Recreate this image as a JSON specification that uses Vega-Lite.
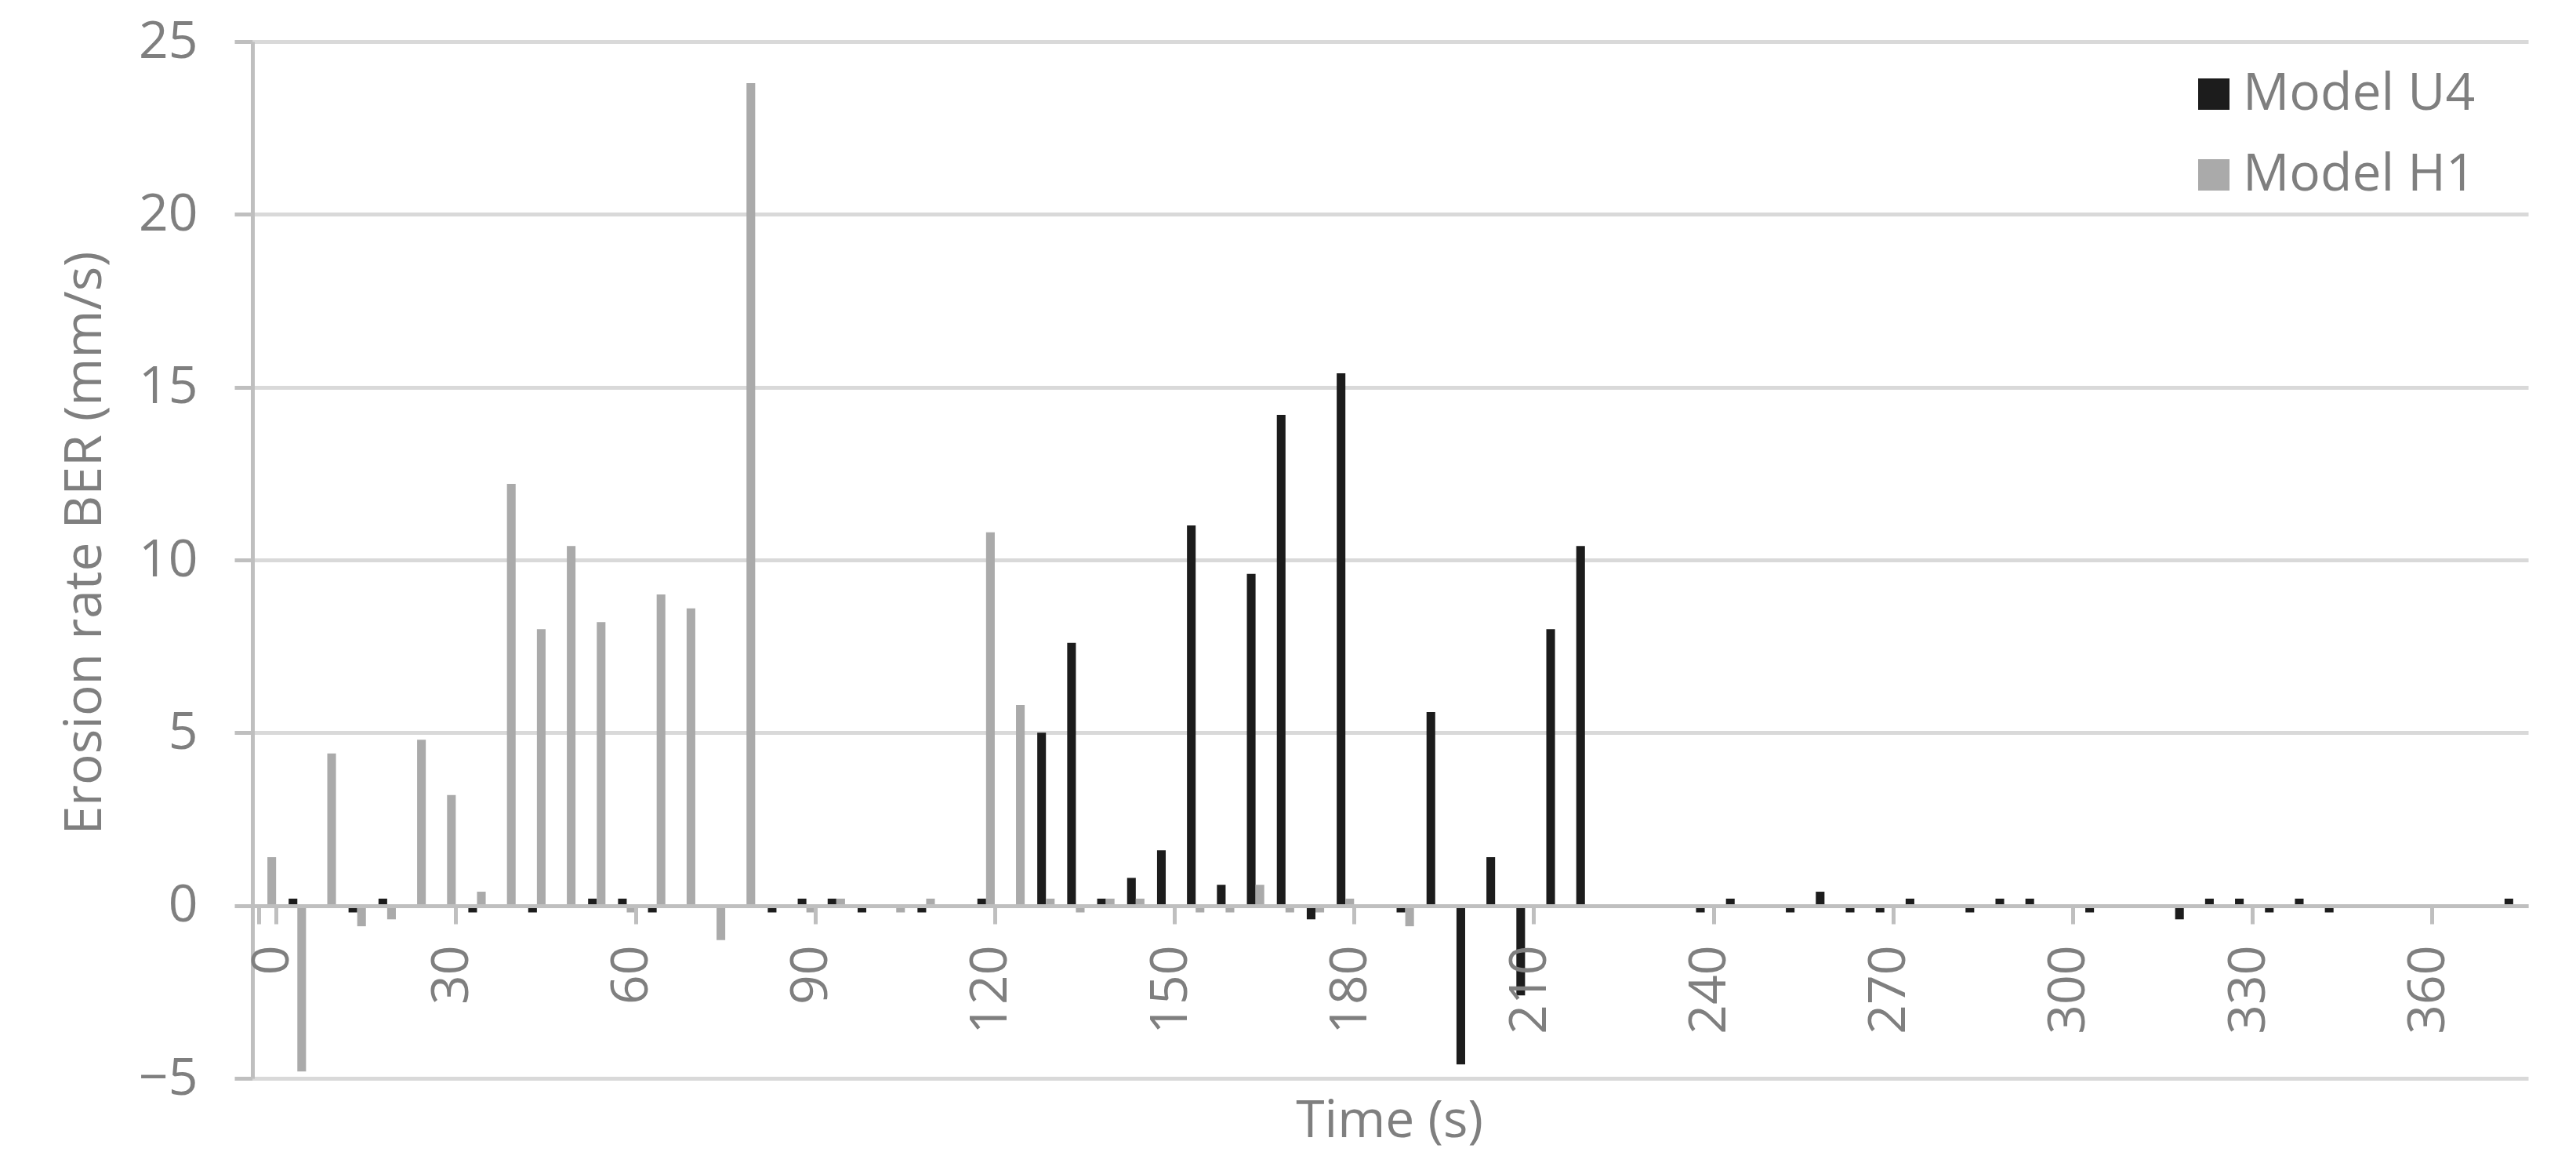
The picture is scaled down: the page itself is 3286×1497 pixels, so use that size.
{
  "$schema": "https://vega.github.io/schema/vega-lite/v6.json",
  "autosize": {"type": "none"},
  "padding": {"left": 322, "top": 53, "right": 61, "bottom": 122},
  "width": 2903,
  "height": 1322,
  "background": "white",
  "config": {
    "font": "Open Sans",
    "view": {"stroke": null}
  },
  "data": {
    "values": [
      {"t": 0, "Model U4": 0, "Model H1": 1.4},
      {"t": 5, "Model U4": 0.2, "Model H1": -4.8},
      {"t": 10, "Model U4": 0, "Model H1": 4.4},
      {"t": 15, "Model U4": -0.2, "Model H1": -0.6},
      {"t": 20, "Model U4": 0.2, "Model H1": -0.4},
      {"t": 25, "Model U4": 0, "Model H1": 4.8},
      {"t": 30, "Model U4": 0, "Model H1": 3.2},
      {"t": 35, "Model U4": -0.2, "Model H1": 0.4},
      {"t": 40, "Model U4": 0, "Model H1": 12.2},
      {"t": 45, "Model U4": -0.2, "Model H1": 8.0},
      {"t": 50, "Model U4": 0, "Model H1": 10.4},
      {"t": 55, "Model U4": 0.2, "Model H1": 8.2},
      {"t": 60, "Model U4": 0.2, "Model H1": -0.2},
      {"t": 65, "Model U4": -0.2, "Model H1": 9.0},
      {"t": 70, "Model U4": 0, "Model H1": 8.6},
      {"t": 75, "Model U4": 0, "Model H1": -1.0},
      {"t": 80, "Model U4": 0, "Model H1": 23.8},
      {"t": 85, "Model U4": -0.2, "Model H1": 0},
      {"t": 90, "Model U4": 0.2, "Model H1": -0.2},
      {"t": 95, "Model U4": 0.2, "Model H1": 0.2},
      {"t": 100, "Model U4": -0.2, "Model H1": 0},
      {"t": 105, "Model U4": 0, "Model H1": -0.2},
      {"t": 110, "Model U4": -0.2, "Model H1": 0.2},
      {"t": 115, "Model U4": 0, "Model H1": 0},
      {"t": 120, "Model U4": 0.2, "Model H1": 10.8},
      {"t": 125, "Model U4": 0, "Model H1": 5.8},
      {"t": 130, "Model U4": 5.0, "Model H1": 0.2},
      {"t": 135, "Model U4": 7.6, "Model H1": -0.2},
      {"t": 140, "Model U4": 0.2, "Model H1": 0.2},
      {"t": 145, "Model U4": 0.8, "Model H1": 0.2},
      {"t": 150, "Model U4": 1.6, "Model H1": 0},
      {"t": 155, "Model U4": 11.0, "Model H1": -0.2},
      {"t": 160, "Model U4": 0.6, "Model H1": -0.2},
      {"t": 165, "Model U4": 9.6, "Model H1": 0.6},
      {"t": 170, "Model U4": 14.2, "Model H1": -0.2},
      {"t": 175, "Model U4": -0.4, "Model H1": -0.2},
      {"t": 180, "Model U4": 15.4, "Model H1": 0.2},
      {"t": 185, "Model U4": 0, "Model H1": 0},
      {"t": 190, "Model U4": -0.2, "Model H1": -0.6},
      {"t": 195, "Model U4": 5.6, "Model H1": 0},
      {"t": 200, "Model U4": -4.6, "Model H1": 0},
      {"t": 205, "Model U4": 1.4, "Model H1": 0},
      {"t": 210, "Model U4": -2.6, "Model H1": 0},
      {"t": 215, "Model U4": 8.0, "Model H1": 0},
      {"t": 220, "Model U4": 10.4, "Model H1": 0},
      {"t": 225, "Model U4": 0, "Model H1": 0},
      {"t": 230, "Model U4": 0, "Model H1": 0},
      {"t": 235, "Model U4": 0, "Model H1": 0},
      {"t": 240, "Model U4": -0.2, "Model H1": 0},
      {"t": 245, "Model U4": 0.2, "Model H1": 0},
      {"t": 250, "Model U4": 0, "Model H1": 0},
      {"t": 255, "Model U4": -0.2, "Model H1": 0},
      {"t": 260, "Model U4": 0.4, "Model H1": 0},
      {"t": 265, "Model U4": -0.2, "Model H1": 0},
      {"t": 270, "Model U4": -0.2, "Model H1": 0},
      {"t": 275, "Model U4": 0.2, "Model H1": 0},
      {"t": 280, "Model U4": 0, "Model H1": 0},
      {"t": 285, "Model U4": -0.2, "Model H1": 0},
      {"t": 290, "Model U4": 0.2, "Model H1": 0},
      {"t": 295, "Model U4": 0.2, "Model H1": 0},
      {"t": 300, "Model U4": 0, "Model H1": 0},
      {"t": 305, "Model U4": -0.2, "Model H1": 0},
      {"t": 310, "Model U4": 0, "Model H1": 0},
      {"t": 315, "Model U4": 0, "Model H1": 0},
      {"t": 320, "Model U4": -0.4, "Model H1": 0},
      {"t": 325, "Model U4": 0.2, "Model H1": 0},
      {"t": 330, "Model U4": 0.2, "Model H1": 0},
      {"t": 335, "Model U4": -0.2, "Model H1": 0},
      {"t": 340, "Model U4": 0.2, "Model H1": 0},
      {"t": 345, "Model U4": -0.2, "Model H1": 0},
      {"t": 350, "Model U4": 0, "Model H1": 0},
      {"t": 355, "Model U4": 0, "Model H1": 0},
      {"t": 360, "Model U4": 0, "Model H1": 0},
      {"t": 365, "Model U4": 0, "Model H1": 0},
      {"t": 370, "Model U4": 0, "Model H1": 0},
      {"t": 375, "Model U4": 0.2, "Model H1": 0}
    ]
  },
  "transform": [
    {"fold": ["Model U4", "Model H1"], "as": ["model", "value"]}
  ],
  "mark": {"type": "bar"},
  "encoding": {
    "x": {
      "field": "t",
      "type": "ordinal",
      "sort": "ascending",
      "scale": {"paddingInner": 0.42, "paddingOuter": 0.21},
      "axis": {
        "values": [0, 30, 60, 90, 120, 150, 180, 210, 240, 270, 300, 330, 360],
        "title": "Time (s)",
        "titleFontSize": 66,
        "titleFontWeight": "normal",
        "titleColor": "#7f7f7f",
        "titleX": 1450,
        "titleY": 294,
        "titleAlign": "center",
        "titleBaseline": "alphabetic",
        "labelAngle": -90,
        "labelFontSize": 66,
        "labelColor": "#7f7f7f",
        "labelPadding": 27,
        "labelOffset": 6,
        "labelOverlap": false,
        "labelBound": false,
        "tickBand": "extent",
        "tickExtra": false,
        "tickSize": 23,
        "tickWidth": 5,
        "tickColor": "#bfbfbf",
        "domainColor": "#bfbfbf",
        "domainWidth": 5,
        "grid": false,
        "offset": -220,
        "zindex": 1
      }
    },
    "xOffset": {
      "field": "model",
      "type": "nominal",
      "sort": ["Model U4", "Model H1"],
      "scale": {"paddingInner": 0, "paddingOuter": 0}
    },
    "y": {
      "field": "value",
      "type": "quantitative",
      "scale": {"domain": [-5, 25], "nice": false, "zero": false},
      "axis": {
        "values": [-5, 0, 5, 10, 15, 20, 25],
        "title": "Erosion rate BER (mm/s)",
        "titleFontSize": 66,
        "titleFontWeight": "normal",
        "titleColor": "#7f7f7f",
        "titleAngle": -90,
        "titleX": -194,
        "titleY": 639,
        "titleAlign": "center",
        "titleBaseline": "alphabetic",
        "labelFontSize": 66,
        "labelColor": "#7f7f7f",
        "labelPadding": 47,
        "tickSize": 23,
        "tickWidth": 5,
        "tickColor": "#bfbfbf",
        "domainColor": "#bfbfbf",
        "domainWidth": 5,
        "grid": true,
        "gridColor": "#d9d9d9",
        "gridWidth": 5
      }
    },
    "color": {
      "field": "model",
      "type": "nominal",
      "scale": {"domain": ["Model U4", "Model H1"], "range": ["#1c1c1c", "#aaaaaa"]},
      "legend": {
        "title": null,
        "orient": "none",
        "legendX": 2469,
        "legendY": 34,
        "padding": 0,
        "symbolType": "square",
        "symbolSize": 1600,
        "symbolStrokeWidth": 0,
        "labelFontSize": 66,
        "labelColor": "#7f7f7f",
        "labelOffset": 4,
        "labelLimit": 0,
        "rowPadding": 37
      }
    }
  }
}
